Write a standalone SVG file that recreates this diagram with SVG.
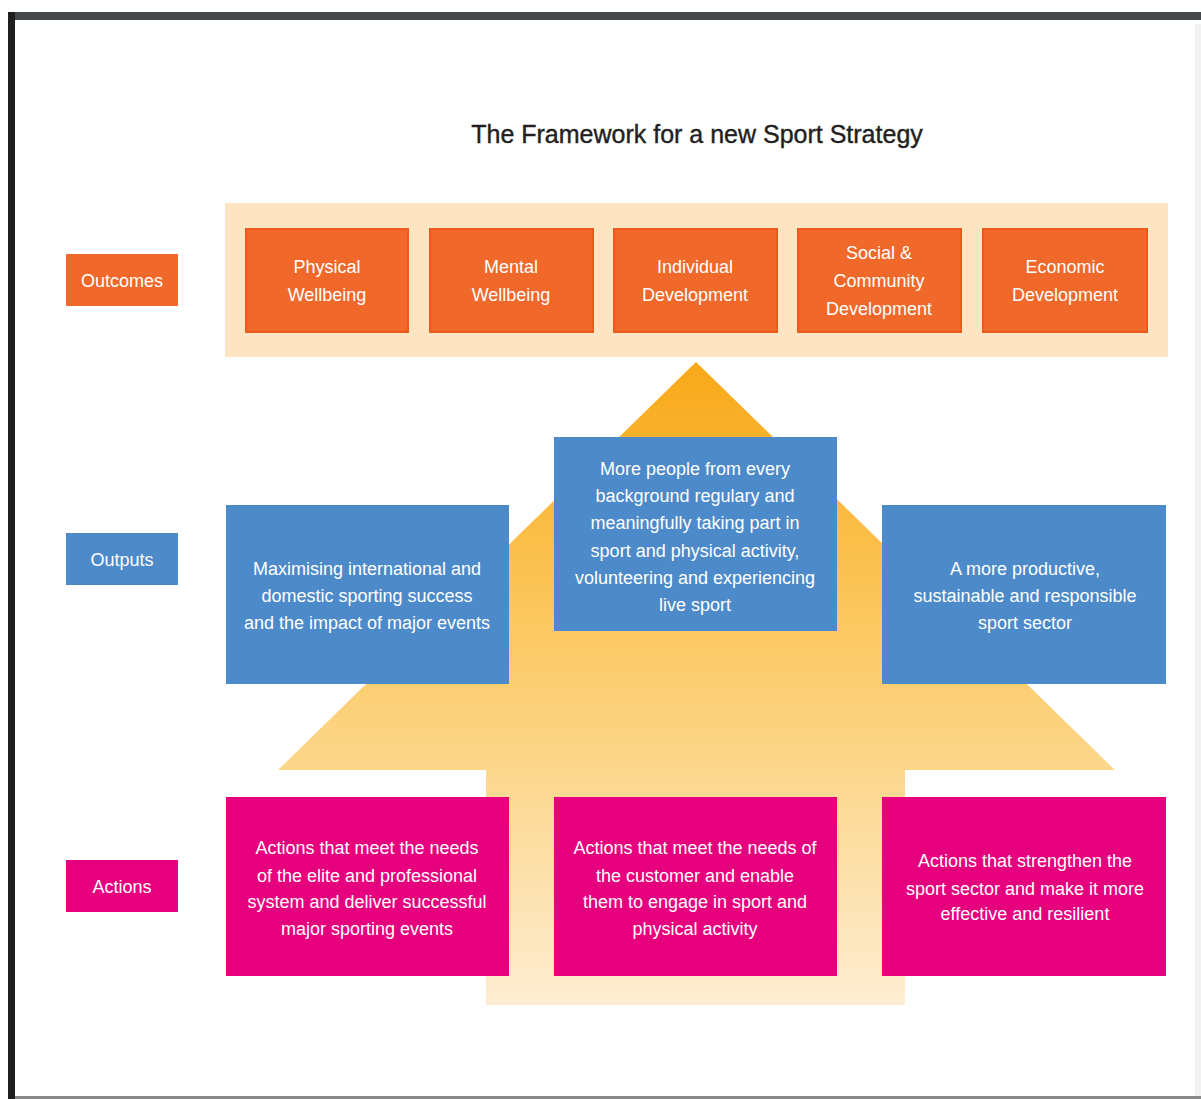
<svg xmlns="http://www.w3.org/2000/svg" width="1201" height="1099" viewBox="0 0 1201 1099">
<defs>
<linearGradient id="arrowGrad" gradientUnits="userSpaceOnUse" x1="0" y1="362" x2="0" y2="1005">
<stop offset="0" stop-color="#F9A818"/>
<stop offset="0.35" stop-color="#FBC455"/>
<stop offset="0.65" stop-color="#FCD88F"/>
<stop offset="1" stop-color="#FEEDD2"/>
</linearGradient>
<style>
.title{font-family:"Liberation Sans",Arial,sans-serif;font-size:25px;fill:#231F20;text-anchor:middle;stroke:#231F20;stroke-width:0.4}
.t{font-family:"Liberation Sans",Arial,sans-serif;font-size:18px;fill:#FFFFFF;text-anchor:middle}
.orange{fill:#F0692A;stroke:#EC5B1B;stroke-width:2}
.blue{fill:#4D8ACA}
.pink{fill:#E6007E}
</style>
</defs>
<rect x="0" y="0" width="1201" height="1099" fill="#FFFFFF"/>
<rect x="8" y="12" width="1193" height="8" fill="#45484B"/>
<rect x="8" y="12" width="7" height="1087" fill="#1E1E1E"/>
<rect x="15" y="1096" width="1186" height="3" fill="#8A8A8A"/>
<rect x="1195" y="24" width="6" height="1072" fill="#F2F2F2"/>
<text class="title" x="697" y="143">The Framework for a new Sport Strategy</text>
<g id="arrow">
<polygon points="696,362 1115,770 905,770 905,1005 486,1005 486,770 278,770" fill="url(#arrowGrad)"/>
</g>
<g id="outcomes-band"><rect x="225" y="203" width="943" height="154" fill="#FDE5C3"/></g>
<g id="label-outcomes"><rect x="66" y="254" width="112" height="52" fill="#F0692A"/><text class="t" x="122" y="287">Outcomes</text></g>
<g id="label-outputs"><rect x="66" y="533" width="112" height="52" fill="#4D8ACA"/><text class="t" x="122" y="566">Outputs</text></g>
<g id="label-actions"><rect x="66" y="860" width="112" height="52" fill="#E6007E"/><text class="t" x="122" y="893">Actions</text></g>
<g id="physical"><rect class="orange" x="246" y="229" width="162" height="103"/><text class="t" x="327" y="273">Physical</text><text class="t" x="327" y="301">Wellbeing</text></g>
<g id="mental"><rect class="orange" x="430" y="229" width="163" height="103"/><text class="t" x="511" y="273">Mental</text><text class="t" x="511" y="301">Wellbeing</text></g>
<g id="individual"><rect class="orange" x="614" y="229" width="163" height="103"/><text class="t" x="695" y="273">Individual</text><text class="t" x="695" y="301">Development</text></g>
<g id="social"><rect class="orange" x="798" y="229" width="163" height="103"/><text class="t" x="879" y="259">Social &amp;</text><text class="t" x="879" y="287">Community</text><text class="t" x="879" y="315">Development</text></g>
<g id="economic"><rect class="orange" x="983" y="229" width="164" height="103"/><text class="t" x="1065" y="273">Economic</text><text class="t" x="1065" y="301">Development</text></g>
<g id="output-left"><rect class="blue" x="226" y="505" width="283" height="179"/><text class="t" x="367" y="575">Maximising international and</text><text class="t" x="367" y="602">domestic sporting success</text><text class="t" x="367" y="629">and the impact of major events</text></g>
<g id="output-center"><rect class="blue" x="554" y="437" width="283" height="194"/><text class="t" x="695" y="475">More people from every</text><text class="t" x="695" y="502">background regulary and</text><text class="t" x="695" y="529">meaningfully taking part in</text><text class="t" x="695" y="557">sport and physical activity,</text><text class="t" x="695" y="584">volunteering and experiencing</text><text class="t" x="695" y="611">live sport</text></g>
<g id="output-right"><rect class="blue" x="882" y="505" width="284" height="179"/><text class="t" x="1025" y="575">A more productive,</text><text class="t" x="1025" y="602">sustainable and responsible</text><text class="t" x="1025" y="629">sport sector</text></g>
<g id="action-left"><rect class="pink" x="226" y="797" width="283" height="179"/><text class="t" x="367" y="854">Actions that meet the needs</text><text class="t" x="367" y="882">of the elite and professional</text><text class="t" x="367" y="908">system and deliver successful</text><text class="t" x="367" y="935">major sporting events</text></g>
<g id="action-center"><rect class="pink" x="554" y="797" width="283" height="179"/><text class="t" x="695" y="854">Actions that meet the needs of</text><text class="t" x="695" y="882">the customer and enable</text><text class="t" x="695" y="908">them to engage in sport and</text><text class="t" x="695" y="935">physical activity</text></g>
<g id="action-right"><rect class="pink" x="882" y="797" width="284" height="179"/><text class="t" x="1025" y="867">Actions that strengthen the</text><text class="t" x="1025" y="895">sport sector and make it more</text><text class="t" x="1025" y="920">effective and resilient</text></g>
<g id="connectors"></g>
</svg>
